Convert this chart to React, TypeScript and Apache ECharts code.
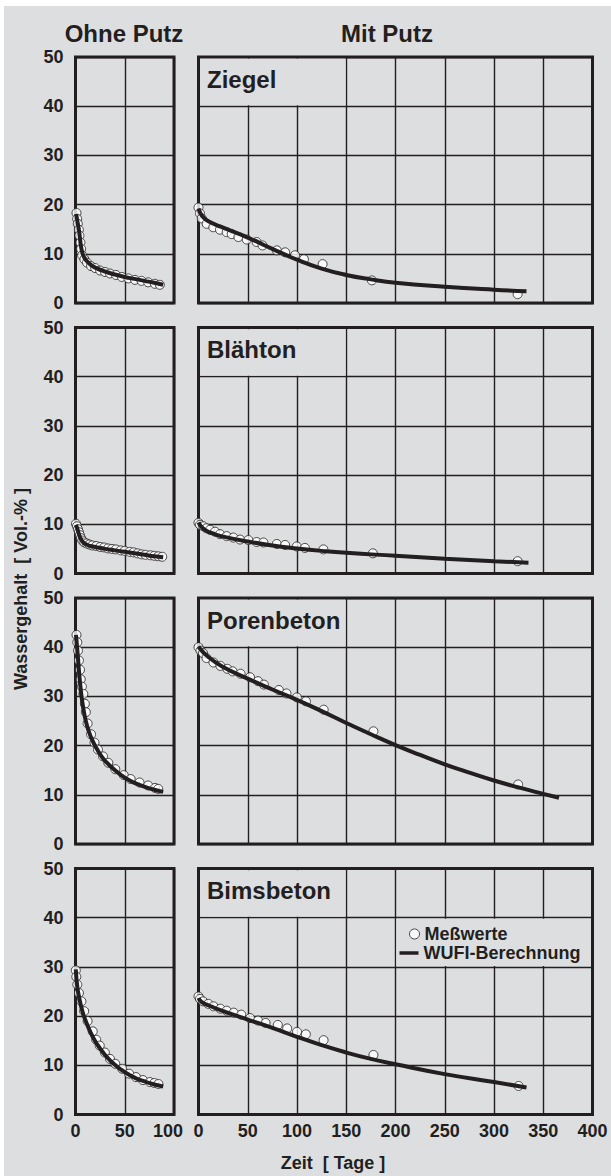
import React, { useEffect, useRef } from "react";
import * as echarts from "echarts";

// ---------- data (Tage, Vol.-%) ----------
const materialNames = ["Ziegel", "Blähton", "Porenbeton", "Bimsbeton"];
const columnTitles = ["Ohne Putz", "Mit Putz"];
const seriesNames = ["Meßwerte", "WUFI-Berechnung"];
const yAxisTitle = "Wassergehalt  [ Vol.-% ]";
const xAxisTitle = "Zeit  [ Tage ]";

const ziegelOhnePunkte = [[1,18.3],[1.7,17.1],[2.3,16.1],[3.4,14.9],[4,13.7],[5,12.3],[5.7,11.0],[6.7,9.7],[9,8.9],[11.7,8.2],[15.8,7.5],[20,7.1],[25,6.6],[30,6.3],[35,6.0],[41,5.7],[47,5.3],[53.7,5.0],[60.4,4.7],[67,4.5],[73.8,4.2],[80.5,3.9],[85.6,3.7]];
const ziegelOhneLinie = [[0.7,18.1],[2,16.5],[3.5,14.8],[4.5,13.2],[5.5,11.6],[7,10.2],[9,9.2],[12,8.4],[16,7.7],[20,7.2],[30,6.4],[40,5.8],[50,5.3],[60,4.9],[70,4.5],[80,4.1],[89,3.7]];
const ziegelMitPunkte = [[0,19.4],[1.5,18.2],[3.3,17.2],[8.3,16.1],[15,15.4],[21.8,14.9],[28.6,14.4],[33.7,14.0],[40.5,13.4],[49,12.9],[59,12.4],[65,11.7],[79.5,10.7],[88,10.3],[98,9.7],[107,8.9],[126,7.9],[176,4.6],[324,1.8]];
const ziegelMitLinie = [[0,19.2],[2,18.2],[5,17.4],[10,16.6],[25,15.3],[50,13.3],[75,11.0],[100,8.8],[125,7.0],[150,5.7],[175,4.8],[200,4.1],[250,3.3],[300,2.7],[333,2.4]];

const blaehtonOhnePunkte = [[0.5,10.1],[1.5,9.6],[2.5,9.0],[3.5,8.4],[4.5,7.8],[5.5,7.2],[7,6.7],[9,6.3],[11.5,6.1],[14,5.9],[17,5.7],[21,5.6],[25,5.4],[29,5.3],[33,5.1],[37,5.0],[41,4.9],[46,4.7],[50,4.6],[55,4.4],[59,4.3],[63,4.1],[67,3.9],[71,3.8],[76,3.7],[80,3.6],[84,3.5],[88,3.4]];
const blaehtonOhneLinie = [[0.5,9.9],[2,9.0],[4,7.7],[6,6.8],[8,6.3],[11,5.9],[15,5.6],[20,5.4],[30,5.0],[40,4.7],[50,4.4],[60,4.1],[70,3.8],[80,3.5],[89,3.3]];
const blaehtonMitPunkte = [[0,10.3],[1.5,9.9],[4.9,9.6],[8,9.2],[11.7,8.9],[16.8,8.5],[21.8,8.0],[28.6,7.6],[35.4,7.3],[42.2,6.9],[50.6,6.8],[59.1,6.4],[65.9,6.3],[79.5,6.0],[87.9,5.8],[99.8,5.5],[108,5.2],[126.8,4.9],[177,4.1],[324,2.5]];
const blaehtonMitLinie = [[0,10.4],[3,9.5],[8,8.7],[15,8.1],[25,7.5],[50,6.5],[75,5.7],[100,5.1],[125,4.6],[150,4.2],[200,3.6],[250,3.0],[300,2.5],[335,2.2]];

const porenOhnePunkte = [[1,42.5],[1.8,41.0],[2.5,39.3],[3.5,37.3],[4.6,35.4],[5.3,33.5],[6.5,32],[8,30.5],[9.5,28.5],[10.5,26.8],[12.3,24.5],[15.8,22.3],[19.3,20.6],[22.8,19.2],[28,17.8],[33.3,16.5],[40.4,15.2],[49,14.0],[56,13.2],[65,12.5],[73.7,11.9],[80.7,11.4],[84,11.2]];
const porenOhneLinie = [[0.5,42.5],[1.5,40.2],[2.5,37.8],[3.5,35.2],[4.5,33],[6,30.2],[8,27.5],[10,25.4],[13,23.2],[17,21.1],[22,19.2],[28,17.4],[35,15.9],[45,14.2],[55,12.9],[65,12.0],[75,11.3],[89,10.6]];
const porenMitPunkte = [[0,40.0],[2,39.3],[4.6,38.8],[8.1,37.8],[15.2,36.9],[22.2,36.2],[29.3,35.6],[34.6,35.1],[42.7,34.6],[52.3,33.9],[60.4,33.1],[66.4,32.4],[81.6,31.3],[89.3,30.6],[99.9,29.8],[109.1,29.0],[127.1,27.3],[177.6,22.9],[324.5,12.1]];
const porenMitLinie = [[0,40.1],[10,38.0],[25,36.0],[50,33.6],[75,31.4],[100,29.3],[125,27.0],[150,24.6],[175,22.3],[200,20.1],[225,18.1],[250,16.2],[275,14.5],[300,12.9],[325,11.5],[350,10.2],[366,9.4]];

const bimsOhnePunkte = [[0.3,29.3],[0.8,28.0],[1.8,26.4],[3.5,24.7],[6,23.0],[8.8,21.0],[12.3,19.0],[17.5,16.9],[21,15.2],[24.6,14.0],[29.8,12.6],[35,11.3],[40.4,10.3],[47.4,9.3],[54.4,8.3],[61.4,7.6],[68.4,7.0],[75.4,6.6],[80,6.4],[84.2,6.2]];
const bimsOhneLinie = [[0.3,29.5],[1.8,26],[4,23.5],[7,21],[10,19.2],[15,16.8],[20,14.9],[25,13.4],[30,12.1],[35,11.0],[40,10.1],[47,9.0],[55,8.0],[62,7.3],[72,6.6],[80,6.1],[89,5.7]];
const bimsMitPunkte = [[0,24.0],[1.5,23.5],[4.6,23.0],[9.9,22.5],[15.2,22.0],[22.2,21.5],[28.6,21.1],[35.7,20.7],[43.4,20.3],[52.3,19.6],[60.4,19.1],[68.1,18.6],[80.5,18.2],[90,17.5],[100,16.8],[109,16.3],[127,15.1],[177.6,12.1],[325,5.8]];
const bimsMitLinie = [[0,23.7],[3,22.9],[10,22.2],[25,21.0],[50,19.3],[75,17.6],[100,15.8],[125,14.1],[150,12.6],[175,11.3],[200,10.2],[250,8.2],[300,6.6],[333,5.5]];

const xMaxOhne = 100;
const xMaxMit = 400;
const xInterval = 50;
const yMax = 50;
const yInterval = 10;

// ---------- styling ----------
const FONT = '"Liberation Sans", Arial, Helvetica, sans-serif';
const INK = "#231f20";
const BG = "#dddee0";
const gridTops = [57, 327.5, 598, 868.5];
const gridH = 246;
const leftGrid = { left: 75.5, width: 98.5 };
const rightGrid = { left: 198.5, width: 394 };

const panels = [
  { row: 0, col: 0, mess: ziegelOhnePunkte, calc: ziegelOhneLinie },
  { row: 0, col: 1, mess: ziegelMitPunkte, calc: ziegelMitLinie },
  { row: 1, col: 0, mess: blaehtonOhnePunkte, calc: blaehtonOhneLinie },
  { row: 1, col: 1, mess: blaehtonMitPunkte, calc: blaehtonMitLinie },
  { row: 2, col: 0, mess: porenOhnePunkte, calc: porenOhneLinie },
  { row: 2, col: 1, mess: porenMitPunkte, calc: porenMitLinie },
  { row: 3, col: 0, mess: bimsOhnePunkte, calc: bimsOhneLinie },
  { row: 3, col: 1, mess: bimsMitPunkte, calc: bimsMitLinie },
];

const labelStyle = {
  color: INK,
  fontSize: 18,
  fontWeight: "bold" as const,
  fontFamily: FONT,
};

function buildOption() {
  const grid: any[] = [];
  const xAxis: any[] = [];
  const yAxis: any[] = [];
  const series: any[] = [];

  panels.forEach((p, i) => {
    const g = p.col === 0 ? leftGrid : rightGrid;
    grid.push({
      left: g.left,
      width: g.width,
      top: gridTops[p.row],
      height: gridH,
      show: true,
      borderColor: INK,
      borderWidth: 3,
      backgroundColor: "transparent",
    });
    xAxis.push({
      gridIndex: i,
      type: "value",
      min: 0,
      max: p.col === 0 ? xMaxOhne : xMaxMit,
      interval: xInterval,
      axisLine: { show: false },
      axisTick: { show: false },
      splitLine: { show: true, lineStyle: { color: INK, width: 1.4 } },
      axisLabel: {
        show: p.row === 3,
        margin: 7,
        ...labelStyle,
        formatter: (v: number) =>
          p.col === 0 && v === xMaxOhne ? "{r|" + v + "}" : String(v),
        rich: { r: { ...labelStyle, padding: [0, 12, 0, 0] } },
      },
    });
    yAxis.push({
      gridIndex: i,
      type: "value",
      min: 0,
      max: yMax,
      interval: yInterval,
      axisLine: { show: false },
      axisTick: { show: false },
      splitLine: { show: true, lineStyle: { color: INK, width: 1.4 } },
      axisLabel: { show: p.col === 0, margin: 12, ...labelStyle },
    });

    // boxes that hide the grid behind the panel title / legend
    if (p.col === 1) {
      const areas: any[] = [
        [
          { xAxis: 1.7, yAxis: 40.2 },
          { xAxis: 149.2, yAxis: 49.65 },
        ],
      ];
      if (p.row === 3) {
        areas.push([
          { xAxis: 200.8, yAxis: 30.2 },
          { xAxis: 398.3, yAxis: 39.8 },
        ]);
      }
      series.push({
        type: "line",
        xAxisIndex: i,
        yAxisIndex: i,
        data: [],
        z: 1,
        silent: true,
        markArea: {
          silent: true,
          itemStyle: { color: BG, opacity: 1, borderWidth: 0 },
          label: { show: false },
          emphasis: { disabled: true },
          data: areas,
        },
      });
    }

    series.push({
      type: "scatter",
      name: seriesNames[0],
      xAxisIndex: i,
      yAxisIndex: i,
      data: p.mess,
      symbol: "circle",
      symbolSize: 9,
      itemStyle: { color: "#ffffff", borderColor: INK, borderWidth: 1 },
      z: 3,
      silent: true,
    });
    series.push({
      type: "line",
      name: seriesNames[1],
      xAxisIndex: i,
      yAxisIndex: i,
      data: p.calc,
      showSymbol: false,
      symbol: "none",
      smooth: 0.5,
      lineStyle: { color: INK, width: 4 },
      itemStyle: { color: INK },
      z: 4,
      silent: true,
    });
  });

  const textBase = {
    fontWeight: "bold",
    fontFamily: FONT,
    fill: INK,
  };

  const graphic: any[] = [
    {
      type: "rect",
      shape: { x: 4, y: 6, width: 607, height: 1170 },
      style: { fill: BG },
      z: -10,
      silent: true,
    },
    {
      type: "text",
      x: 124,
      y: 33,
      z: 50,
      style: { ...textBase, text: columnTitles[0], fontSize: 24, textAlign: "center", textVerticalAlign: "middle" },
    },
    {
      type: "text",
      x: 387,
      y: 33,
      z: 50,
      style: { ...textBase, text: columnTitles[1], fontSize: 24, textAlign: "center", textVerticalAlign: "middle" },
    },
    {
      type: "text",
      x: 21,
      y: 589,
      rotation: Math.PI / 2,
      z: 50,
      style: { ...textBase, text: yAxisTitle, fontSize: 18, textAlign: "center", textVerticalAlign: "middle" },
    },
    {
      type: "text",
      x: 333,
      y: 1163,
      z: 50,
      style: { ...textBase, text: xAxisTitle, fontSize: 18, textAlign: "center", textVerticalAlign: "middle" },
    },
  ];
  materialNames.forEach((m, r) => {
    graphic.push({
      type: "text",
      x: 207,
      y: gridTops[r] + 22,
      z: 50,
      style: { ...textBase, text: m, fontSize: 24, textAlign: "left", textVerticalAlign: "middle" },
    });
  });

  const legendText = { color: INK, fontSize: 18, fontWeight: "bold", fontFamily: FONT };
  const legend = [
    {
      data: [
        {
          name: seriesNames[0],
          icon: "circle",
          itemStyle: { color: "#ffffff", borderColor: INK, borderWidth: 1 },
        },
      ],
      left: 409,
      top: 925,
      padding: 0,
      itemWidth: 10,
      itemHeight: 10,
      selectedMode: false,
      textStyle: legendText,
    },
    {
      data: [
        {
          name: seriesNames[1],
          icon: "rect",
          itemStyle: { color: INK, borderWidth: 0 },
        },
      ],
      left: 399.5,
      top: 944,
      padding: 0,
      itemWidth: 19,
      itemHeight: 3.5,
      selectedMode: false,
      textStyle: legendText,
    },
  ];

  return {
    animation: false,
    backgroundColor: "#ffffff",
    grid,
    xAxis,
    yAxis,
    series,
    legend,
    graphic,
  };
}

export default function App() {
  const ref = useRef<HTMLDivElement>(null);
  useEffect(() => {
    if (!ref.current) return;
    const chart = echarts.init(ref.current, undefined, { renderer: "svg" });
    chart.setOption(buildOption() as any);
    return () => chart.dispose();
  }, []);
  return (
    <div
      ref={ref}
      style={{ position: "absolute", left: 0, top: 0, width: 611, height: 1176 }}
    />
  );
}
